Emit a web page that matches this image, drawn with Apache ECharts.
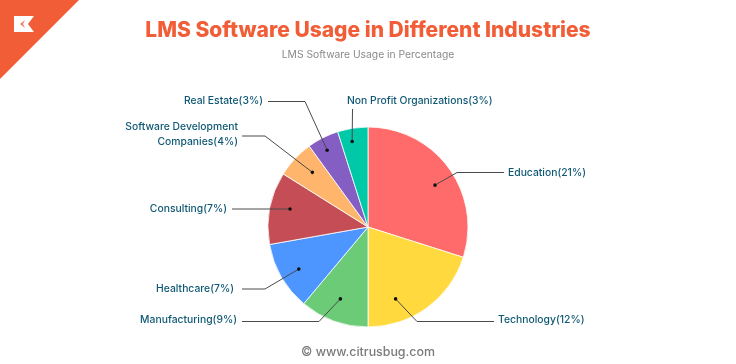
<!DOCTYPE html>
<html>
<head>
<meta charset="utf-8">
<style>html,body{margin:0;padding:0;background:#fff}#c{width:736px;height:364px}</style>
<script src="https://cdn.jsdelivr.net/npm/echarts@6/dist/echarts.min.js"></script>
</head>
<body>
<div id="c"></div>
<script>
const categories = ['Education','Technology','Manufacturing','Healthcare','Consulting','Software Development\nCompanies','Real Estate','Non Profit Organizations'];
const statedPercent = [21,12,9,7,7,4,3,3];
// slice sizes as drawn in the picture (share of the circle, read from the boundaries)
const sliceShare = [29.9,20.1,11.1,11.1,11.7,6.1,5.1,4.9];
const sliceColors = ['#FF6B6B','#FFD93D','#6BCB77','#4D96FF','#C44D56','#FFB56B','#845EC2','#00C9A7'];

const PIE_C = [368,227], PIE_R = 100;
const FONT = 'Inter, "Noto Sans", sans-serif';
// annotation layout: label anchor, leader anchor (polar about pie centre), elbow and end of leader
const leaders = [
  {x:508,y:172.5,align:'left', a:58,   r:79, pts:[[457,172.5],[504,172.5]]},
  {x:498,y:320,align:'left',   a:159,  r:77, pts:[[417,321.5],[494,321.5]]},
  {x:237,y:320,align:'right',  a:201,  r:77, pts:[[319,321.5],[242,321.5]]},
  {x:234,y:289,align:'right',  a:238.7,r:81, pts:[[265,289],[242,289]]},
  {x:227,y:208.5,align:'right',a:283,  r:80, pts:[[232,209]]},
  {x:238,y:134.5,align:'right',a:314.5,r:78, pts:[[265,136],[242,136]]},
  {x:263,y:101,align:'right',  a:332,  r:87, pts:[[305,101.5],[268,101.5]]},
  {x:347,y:101,align:'left',   a:349.5,r:87, pts:[[352.5,109]]}
];
function anchor(l){
  const t = l.a*Math.PI/180;
  return [PIE_C[0]+l.r*Math.sin(t), PIE_C[1]-l.r*Math.cos(t)];
}

const chart = echarts.init(document.getElementById('c'), null, {renderer:'canvas'});
chart.setOption({
  animation:false,
  backgroundColor:'#fff',
  title:[
    {text:'LMS Software Usage in Different Industries',left:'center',top:15,
     textStyle:{fontFamily:FONT,fontSize:21,fontWeight:800,color:'#F15D36'}},
    {text:'LMS Software Usage in Percentage',left:'center',top:44.5,
     textStyle:{fontFamily:FONT,fontSize:10.3,fontWeight:400,color:'#8a8a8a'}},
    {text:'© www.citrusbug.com',left:'center',top:341.5,
     textStyle:{fontFamily:FONT,fontSize:12.4,fontWeight:500,color:'#7a7a7a'}}
  ],
  graphic:[
    {type:'polygon',shape:{points:[[0,0],[79,0],[0,79]]},style:{fill:'#F15D36'},z:1},
    {type:'polygon',shape:{points:[[14,16],[34,16],[28,24],[34,32],[14,32]]},style:{fill:'#fff'},z:2},
    {type:'polygon',shape:{points:[[25,20],[20,24],[25,28],[23,24]]},style:{fill:'#E9805F'},z:3}
  ].concat(leaders.map(l=>({
    type:'polyline',shape:{points:[anchor(l)].concat(l.pts)},
    style:{fill:null,stroke:'#4a4a4a',lineWidth:1},z:99
  }))).concat(leaders.map(l=>{
    const p = anchor(l);
    return {type:'circle',shape:{cx:p[0],cy:p[1],r:1.8},style:{fill:'#111'},z:100};
  })),
  series:[{
    type:'pie',
    center:PIE_C,
    radius:[0,PIE_R],
    startAngle:90,
    clockwise:true,
    avoidLabelOverlap:false,
    itemStyle:{borderColor:'#fff',borderWidth:0.8},
    label:{show:true,position:'outer',fontFamily:FONT,fontSize:10.35,fontWeight:500,color:'#0F5874',lineHeight:15,
      formatter:p=>p.name+'('+statedPercent[p.dataIndex]+'%)'},
    labelLine:{show:false},
    labelLayout:params=>{
      const l = leaders[params.dataIndex];
      return {x:l.x,y:l.y,align:l.align,verticalAlign:'middle'};
    },
    data:categories.map((n,i)=>({name:n,value:sliceShare[i],itemStyle:{color:sliceColors[i]}}))
  }]
});
</script>
</body>
</html>
